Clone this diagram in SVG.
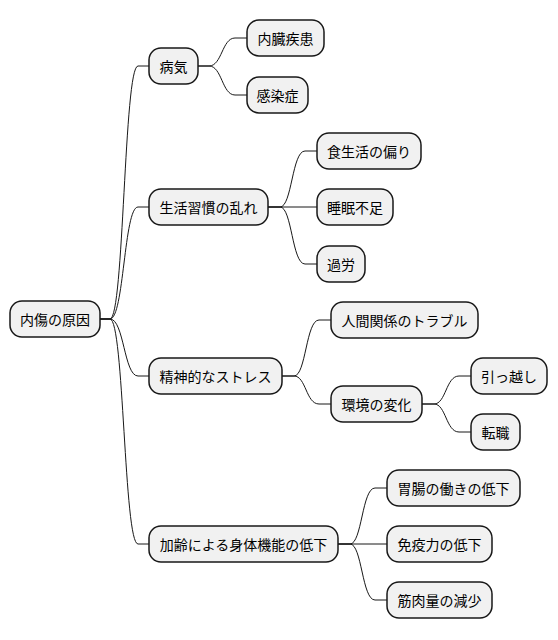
<svg xmlns="http://www.w3.org/2000/svg" width="558" height="640" viewBox="0 0 558 640">
<style>
.n rect{fill:#f1f1f1;stroke:#181818;stroke-width:1.5}
.n text{font-family:"Noto Sans CJK JP","Noto Sans CJK SC",sans-serif;font-size:14px;fill:#000;text-anchor:middle;dominant-baseline:central}
.c path{fill:none;stroke:#181818;stroke-width:1}
</style>
<rect width="558" height="640" fill="#fff"/>
<g class="c">
<path d="M100,319 H110 C124,319 124,66 138,66 H149"/>
<path d="M100,319 H110 C124,319 124,207 138,207 H149"/>
<path d="M100,319 H110 C124,319 124,376 138,376 H149"/>
<path d="M100,319 H110 C124,319 124,544 138,544 H149"/>
<path d="M198,66 H209 C222,66 222,38 235,38 H247"/>
<path d="M198,66 H209 C222,66 222,95 235,95 H247"/>
<path d="M268,207 H280 C292,207 292,151 305,151 H317"/>
<path d="M268,207 H317"/>
<path d="M268,207 H280 C292,207 292,264 305,264 H317"/>
<path d="M282,376 H294 C306,376 306,320 319,320 H331"/>
<path d="M282,376 H294 C306,376 306,404 319,404 H331"/>
<path d="M422,404 H434 C446,404 446,376 459,376 H471"/>
<path d="M422,404 H434 C446,404 446,432 459,432 H471"/>
<path d="M338,544 H350 C362,544 362,488 375,488 H387"/>
<path d="M338,544 H387"/>
<path d="M338,544 H350 C362,544 362,600 375,600 H387"/>
</g>
<g id="root" class="n"><rect x="10" y="301" width="90" height="36" rx="12"/><text x="55" y="319">内傷の原因</text></g>
<g id="n1" class="n"><rect x="149" y="48" width="49" height="36" rx="12"/><text x="173.5" y="66">病気</text></g>
<g id="n1a" class="n"><rect x="247" y="20" width="77" height="36" rx="12"/><text x="285.5" y="38">内臓疾患</text></g>
<g id="n1b" class="n"><rect x="247" y="77" width="61" height="36" rx="12"/><text x="277.5" y="95">感染症</text></g>
<g id="n2" class="n"><rect x="149" y="189" width="119" height="36" rx="12"/><text x="208.5" y="207">生活習慣の乱れ</text></g>
<g id="n2a" class="n"><rect x="317" y="133" width="104" height="36" rx="12"/><text x="369" y="151">食生活の偏り</text></g>
<g id="n2b" class="n"><rect x="317" y="189" width="76" height="36" rx="12"/><text x="355" y="207">睡眠不足</text></g>
<g id="n2c" class="n"><rect x="317" y="246" width="48" height="36" rx="12"/><text x="341" y="264">過労</text></g>
<g id="n3" class="n"><rect x="149" y="358" width="133" height="36" rx="12"/><text x="215.5" y="376">精神的なストレス</text></g>
<g id="n3a" class="n"><rect x="331" y="302" width="147" height="36" rx="12"/><text x="404.5" y="320">人間関係のトラブル</text></g>
<g id="n3b" class="n"><rect x="331" y="386" width="91" height="36" rx="12"/><text x="376.5" y="404">環境の変化</text></g>
<g id="n3b1" class="n"><rect x="471" y="358" width="76" height="36" rx="12"/><text x="509" y="376">引っ越し</text></g>
<g id="n3b2" class="n"><rect x="471" y="414" width="49" height="36" rx="12"/><text x="495.5" y="432">転職</text></g>
<g id="n4" class="n"><rect x="149" y="526" width="189" height="36" rx="12"/><text x="243.5" y="544">加齢による身体機能の低下</text></g>
<g id="n4a" class="n"><rect x="387" y="470" width="133" height="36" rx="12"/><text x="453.5" y="488">胃腸の働きの低下</text></g>
<g id="n4b" class="n"><rect x="387" y="526" width="105" height="36" rx="12"/><text x="439.5" y="544">免疫力の低下</text></g>
<g id="n4c" class="n"><rect x="387" y="582" width="105" height="36" rx="12"/><text x="439.5" y="600">筋肉量の減少</text></g>
</svg>
